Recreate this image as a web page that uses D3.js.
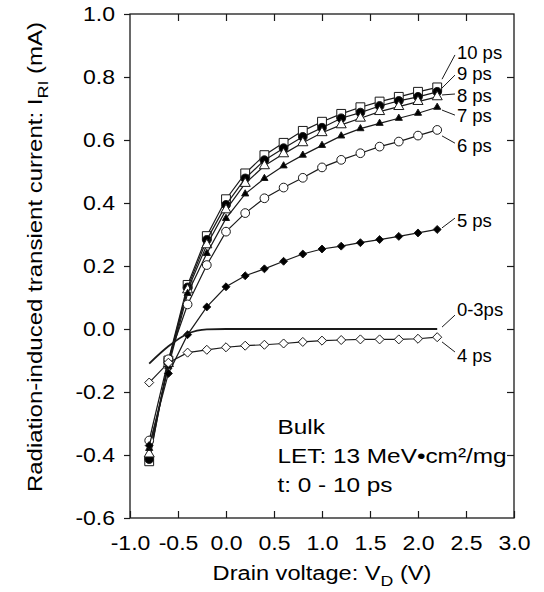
<!DOCTYPE html>
<html>
<head>
<meta charset="utf-8">
<script src="https://cdn.jsdelivr.net/npm/d3@7.9.0/dist/d3.min.js"></script>
<style>
  body { margin: 0; background: #fff; }
  svg { display: block; font-family: "Liberation Sans", Arial, sans-serif; }
</style>
</head>
<body>
<svg id="chart" width="544" height="592"></svg>
<script>
// drain voltage (V)
const vd = [-0.8, -0.6, -0.4, -0.2, 0.0, 0.2, 0.4, 0.6, 0.8, 1.0, 1.2, 1.4, 1.6, 1.8, 2.0, 2.2];

// transient current (mA) at each time step
const ps10 = [-0.420, -0.100, 0.140, 0.295, 0.412, 0.494, 0.552, 0.591, 0.629, 0.658, 0.683, 0.704, 0.722, 0.737, 0.753, 0.767];
const ps9  = [-0.413, -0.105, 0.132, 0.283, 0.394, 0.478, 0.536, 0.574, 0.610, 0.639, 0.669, 0.687, 0.708, 0.724, 0.737, 0.753];
const ps8  = [-0.397, -0.110, 0.124, 0.267, 0.378, 0.462, 0.518, 0.556, 0.591, 0.623, 0.648, 0.669, 0.690, 0.706, 0.722, 0.737];
const ps7  = [-0.379, -0.120, 0.113, 0.240, 0.351, 0.429, 0.478, 0.518, 0.552, 0.583, 0.613, 0.636, 0.653, 0.669, 0.685, 0.704];
const ps6  = [-0.354, -0.096, 0.078, 0.203, 0.309, 0.368, 0.415, 0.449, 0.480, 0.513, 0.537, 0.558, 0.579, 0.595, 0.614, 0.632];
const ps5  = [-0.370, -0.141, -0.018, 0.070, 0.134, 0.169, 0.191, 0.215, 0.238, 0.254, 0.263, 0.274, 0.284, 0.294, 0.305, 0.316];
const ps4  = [-0.170, -0.107, -0.075, -0.066, -0.058, -0.053, -0.050, -0.046, -0.041, -0.037, -0.035, -0.033, -0.033, -0.033, -0.031, -0.026];
const ps0to3 = [-0.110, -0.055, -0.015, -0.001, 0, 0, 0, 0, 0, 0, 0, 0, 0, 0, 0, 0];

// tick values
const xTicks = [-1.0, -0.5, 0.0, 0.5, 1.0, 1.5, 2.0, 2.5, 3.0];
const yTicks = [-0.6, -0.4, -0.2, 0.0, 0.2, 0.4, 0.6, 0.8, 1.0];

// series labels: text, label centre y, leader start y, leader end y (mA)
const labelText = ["10 ps", "9 ps", "8 ps", "7 ps", "6 ps", "5 ps", "0-3ps", "4 ps"];
const labelY    = [0.879, 0.813, 0.741, 0.679, 0.584, 0.346, 0.063, -0.083];
const leadStart = [0.793, 0.765, 0.743, 0.695, 0.613, 0.321, 0.006, -0.041];
const leadEnd   = [0.870, 0.806, 0.746, 0.679, 0.590, 0.352, 0.044, -0.073];

const margin = {top: 14, right: 30, bottom: 74, left: 130};
const W = 544, H = 592;
const pw = W - margin.left - margin.right;
const ph = H - margin.top - margin.bottom;

const svg = d3.select("#chart");
const g = svg.append("g").attr("transform", `translate(${margin.left},${margin.top})`);

const x = d3.scaleLinear().domain([-1.0, 3.0]).range([0, pw]);
const y = d3.scaleLinear().domain([-0.6, 1.0]).range([ph, 0]);

const ink = "#1a1a1a";

// the original type is set a bit wider than Arial
function stretch(sel, k) {
  sel.each(function () {
    const len = this.getComputedTextLength();
    d3.select(this).attr("textLength", len * k).attr("lengthAdjust", "spacingAndGlyphs");
  });
}

// axes
const fmt = d => d3.format(".1f")(d).replace("\u2212", "-");
const axLeft = g.append("g").call(d3.axisLeft(y).tickValues(yTicks).tickFormat(fmt).tickSizeInner(6).tickSizeOuter(0).tickPadding(9));
const axBottom = g.append("g").attr("transform", `translate(0,${ph})`)
  .call(d3.axisBottom(x).tickValues(xTicks).tickFormat(fmt).tickSizeInner(-7).tickSizeOuter(0).tickPadding(18));
const axTop = g.append("g").call(d3.axisTop(x).tickValues(xTicks.slice(1, -1)).tickSizeInner(-7).tickSizeOuter(0).tickFormat(""));
const axRight = g.append("g").attr("transform", `translate(${pw},0)`)
  .call(d3.axisRight(y).tickValues(yTicks.slice(1, -1)).tickSizeInner(-7).tickSizeOuter(0).tickFormat(""));

[axLeft, axBottom, axTop, axRight].forEach(a => {
  a.select(".domain").remove();
  a.selectAll("line").attr("stroke", ink).attr("stroke-width", 1.2);
  a.selectAll("text").attr("fill", "#000").style("font-size", "20px").attr("font-family", null);
});
stretch(axLeft.selectAll("text"), 1.15);
stretch(axBottom.selectAll("text"), 1.15);

g.append("rect").attr("width", pw).attr("height", ph)
  .attr("fill", "none").attr("stroke", ink).attr("stroke-width", 1.3);

// series definitions (draw back to front)
const series = [
  {vals: ps10, sym: d3.symbolSquare, size: 78, fill: "#fff"},
  {vals: ps9, sym: d3.symbolCircle, size: 60, fill: "#000"},
  {vals: ps8, sym: d3.symbolTriangle, size: 44, fill: "#fff"},
  {vals: ps7, sym: d3.symbolTriangle, size: 22, fill: "#000"},
  {vals: ps6, sym: d3.symbolCircle, size: 60, fill: "#fff"},
  {vals: ps5, sym: d3.symbolDiamond2, size: 40, fill: "#000"},
  {vals: ps4, sym: d3.symbolDiamond2, size: 52, fill: "#fff"},
  {vals: ps0to3, sym: null}
];

const line = d3.line().x((d, i) => x(vd[i])).y(d => y(d));
const smooth = d3.line().x((d, i) => x(vd[i])).y(d => y(d)).curve(d3.curveMonotoneX);

series.forEach(s => {
  g.append("path").datum(s.vals)
    .attr("d", s.sym ? line : smooth)
    .attr("fill", "none").attr("stroke", ink).attr("stroke-width", s.sym ? 1.2 : 1.8);
  if (!s.sym) return;
  g.selectAll(null).data(s.vals).enter().append("path")
    .attr("transform", (d, i) => `translate(${x(vd[i])},${y(d)})`)
    .attr("d", d3.symbol().type(s.sym).size(s.size))
    .attr("fill", s.fill).attr("stroke", ink).attr("stroke-width", 1);
});

// series labels with leader lines
const leadX0 = 2.25, leadX1 = 2.385, textX = 2.405;
labelText.forEach((t, i) => {
  g.append("line")
    .attr("x1", x(leadX0)).attr("y1", y(leadStart[i]))
    .attr("x2", x(leadX1)).attr("y2", y(leadEnd[i]))
    .attr("stroke", ink).attr("stroke-width", 1);
  g.append("text").attr("x", x(textX)).attr("y", y(labelY[i])).attr("dy", "0.36em")
    .style("font-size", "18.5px").text(t);
});

// annotation
const noteLines = ["Bulk", "LET: 13 MeV\u2022cm\u00b2/mg", "t: 0 - 10 ps"];
const noteY = [-0.333, -0.425, -0.517];
const notes = g.selectAll(null).data(noteLines).enter().append("text")
  .attr("x", x(0.536)).attr("y", (d, i) => y(noteY[i]))
  .style("font-size", "21px").text(d => d);
stretch(notes, 1.16);

// axis titles
const xt = svg.append("text").attr("x", 322).attr("y", 580).attr("text-anchor", "middle").style("font-size", "20px");
xt.append("tspan").text("Drain voltage: V");
xt.append("tspan").attr("dy", 6).style("font-size", "15px").text("D");
xt.append("tspan").attr("dy", -6).text(" (V)");
stretch(xt, 1.18);

const yt = svg.append("text").attr("transform", "translate(42,257) rotate(-90)")
  .attr("text-anchor", "middle").style("font-size", "20px");
yt.append("tspan").text("Radiation-induced transient current: I");
yt.append("tspan").attr("dy", 6).style("font-size", "15px").text("RI");
yt.append("tspan").attr("dy", -6).text(" (mA)");
stretch(yt, 1.2);
</script>
</body>
</html>
